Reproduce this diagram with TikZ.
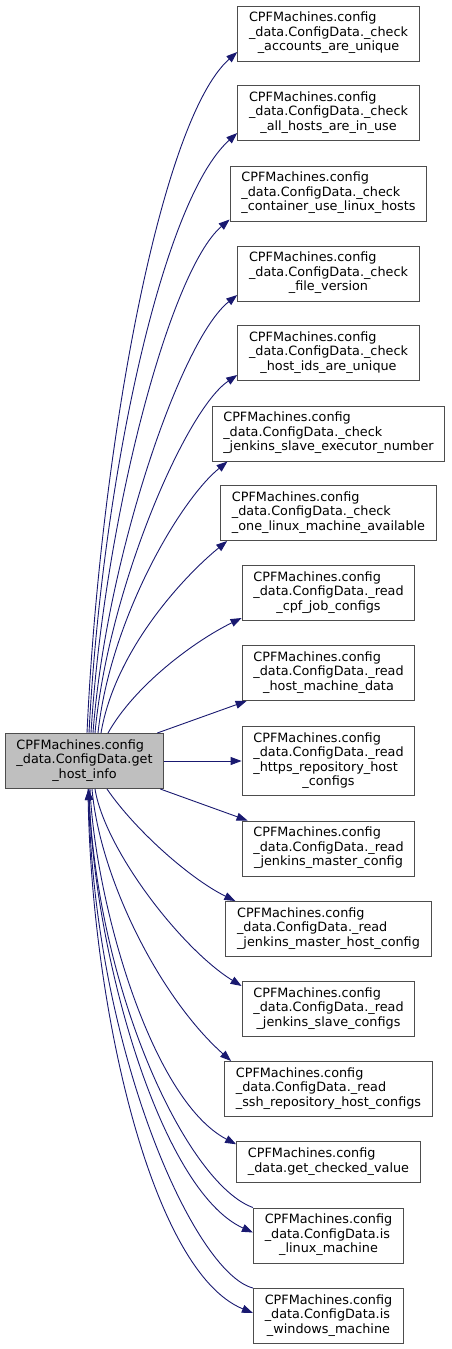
\documentclass[tikz,border=0pt]{standalone}
\usepackage{fontspec}
\setmainfont{DejaVu Sans}
\usetikzlibrary{arrows.meta}
\usepackage{xcolor}
\definecolor{midnight}{HTML}{191970}
\definecolor{boxline}{HTML}{4D4D4D}
\definecolor{srcfill}{HTML}{BFBFBF}
\newcommand{\fnl}[1]{\begin{tabular}{@{}l@{}}#1\end{tabular}}
\newcommand{\lastl}[1]{\multicolumn{1}{@{}c@{}}{#1}}

\begin{document}
\begin{tikzpicture}[
              font=\fontsize{12.8}{14.5}\selectfont,
              x=1pt,
              y=1pt,
              fn/.style={draw=boxline, fill=white, line width=1pt, inner xsep=11.3pt, inner ysep=5.75pt},
              srcfn/.style={fn, fill=srcfill},
              callarrow/.style={-{Triangle[length=11pt,width=8pt]}, draw=midnight, line width=0.9pt}
            ]
            \useasboundingbox (0,0) rectangle (451,-1349);

            \node[srcfn] (src) at (84.5,-761) {\fnl{CPFMachines.config\\ \_data.ConfigData.get\\ \lastl{\_host\_info}}};

            \node[fn] (acc) at (328.5,-33.5) {\fnl{CPFMachines.config\\ \_data.ConfigData.\_check\\ \lastl{\_accounts\_are\_unique}}};
            \node[fn] (allhosts) at (328.5,-113) {\fnl{CPFMachines.config\\ \_data.ConfigData.\_check\\ \lastl{\_all\_hosts\_are\_in\_use}}};
            \node[fn] (container) at (328.5,-193.5) {\fnl{CPFMachines.config\\ \_data.ConfigData.\_check\\ \lastl{\_container\_use\_linux\_hosts}}};
            \node[fn] (filever) at (328.5,-273.5) {\fnl{CPFMachines.config\\ \_data.ConfigData.\_check\\ \lastl{\_file\_version}}};
            \node[fn] (hostids) at (328.5,-353) {\fnl{CPFMachines.config\\ \_data.ConfigData.\_check\\ \lastl{\_host\_ids\_are\_unique}}};
            \node[fn] (slaveexec) at (328.5,-433.5) {\fnl{CPFMachines.config\\ \_data.ConfigData.\_check\\ \lastl{\_jenkins\_slave\_executor\_number}}};
            \node[fn] (onelinux) at (328.5,-513) {\fnl{CPFMachines.config\\ \_data.ConfigData.\_check\\ \lastl{\_one\_linux\_machine\_available}}};
            \node[fn] (cpfjob) at (328.5,-593) {\fnl{CPFMachines.config\\ \_data.ConfigData.\_read\\ \lastl{\_cpf\_job\_configs}}};
            \node[fn] (hostmachine) at (328.5,-673) {\fnl{CPFMachines.config\\ \_data.ConfigData.\_read\\ \lastl{\_host\_machine\_data}}};
            \node[fn] (https) at (328.5,-761) {\fnl{CPFMachines.config\\ \_data.ConfigData.\_read\\ \_https\_repository\_host\\ \lastl{\_configs}}};
            \node[fn] (mastercfg) at (328.5,-848.5) {\fnl{CPFMachines.config\\ \_data.ConfigData.\_read\\ \lastl{\_jenkins\_master\_config}}};
            \node[fn] (masterhost) at (328.5,-929) {\fnl{CPFMachines.config\\ \_data.ConfigData.\_read\\ \lastl{\_jenkins\_master\_host\_config}}};
            \node[fn] (slavecfg) at (328.5,-1009) {\fnl{CPFMachines.config\\ \_data.ConfigData.\_read\\ \lastl{\_jenkins\_slave\_configs}}};
            \node[fn] (ssh) at (328.5,-1089) {\fnl{CPFMachines.config\\ \_data.ConfigData.\_read\\ \lastl{\_ssh\_repository\_host\_configs}}};
            \node[fn] (checked) at (328.5,-1162) {\fnl{CPFMachines.config\\ \lastl{\_data.get\_checked\_value}}};
            \node[fn] (islinux) at (328.5,-1235.5) {\fnl{CPFMachines.config\\ \_data.ConfigData.is\\ \lastl{\_linux\_machine}}};
            \node[fn] (iswindows) at (328.5,-1316) {\fnl{CPFMachines.config\\ \_data.ConfigData.is\\ \lastl{\_windows\_machine}}};

            \draw[callarrow] ([xshift=2.5]src.north) .. controls +(13,283) and +(-77,-68) .. ([yshift=-18.5]acc.west);
            \draw[callarrow] ([xshift=4.5]src.north) .. controls +(13,253) and +(-75,-67) .. ([yshift=-20]allhosts.west);
            \draw[callarrow] ([xshift=6.5]src.north) .. controls +(13,213) and +(-60,-51) .. ([yshift=2]container.south west);
            \draw[callarrow] ([xshift=8.5]src.north) .. controls +(13,173) and +(-57,-45) .. ([yshift=-21.5]filever.west);
            \draw[callarrow] ([xshift=10.5]src.north) .. controls +(13,143) and +(-52,-35) .. ([yshift=-22]hostids.west);
            \draw[callarrow] ([xshift=13.5]src.north) .. controls +(12,113) and +(-48,-39) .. ([xshift=16]slaveexec.south west);
            \draw[callarrow] ([xshift=16.5]src.north) .. controls +(14,83) and +(-43,-35) .. ([xshift=7]onelinux.south west);
            \draw[callarrow] ([xshift=23.5]src.north) .. controls +(27,48) and +(-47,-23) .. ([yshift=3]cpfjob.south west);
            \draw[callarrow] ([xshift=-7]src.north east) -- ([xshift=5]hostmachine.south west);
            \draw[callarrow] (src.east) -- (https.west);
            \draw[callarrow] ([xshift=-4]src.south east) -- ([xshift=6]mastercfg.north west);
            \draw[callarrow] ([xshift=22.5]src.south) .. controls +(28,-41) and +(-45,22) .. ([xshift=10]masterhost.north west);
            \draw[callarrow] ([xshift=10.5]src.south) .. controls +(10,-61) and +(-60,37) .. ([yshift=-5]slavecfg.north west);
            \draw[callarrow] ([xshift=7.5]src.south) .. controls +(8,-91) and +(-70,62) .. ([xshift=7]ssh.north west);
            \draw[callarrow] ([xshift=5.5]src.south) .. controls +(5,-111) and +(-86,45) .. ([yshift=-3]checked.north west);
            \draw[callarrow] ([xshift=4.5]src.south) .. controls +(3,-161) and +(-93,42) .. ([yshift=3]islinux.west);
            \draw[callarrow] (islinux.north west) .. controls +(-64,23) and +(11,-211) .. ([xshift=4]src.south);
            \draw[callarrow] ([xshift=3.5]src.south) .. controls +(2,-211) and +(-103,42) .. ([yshift=3]iswindows.west);
            \draw[callarrow] (iswindows.north west) .. controls +(-59,15) and +(6,-261) .. ([xshift=4]src.south);
\end{tikzpicture}
\end{document}
